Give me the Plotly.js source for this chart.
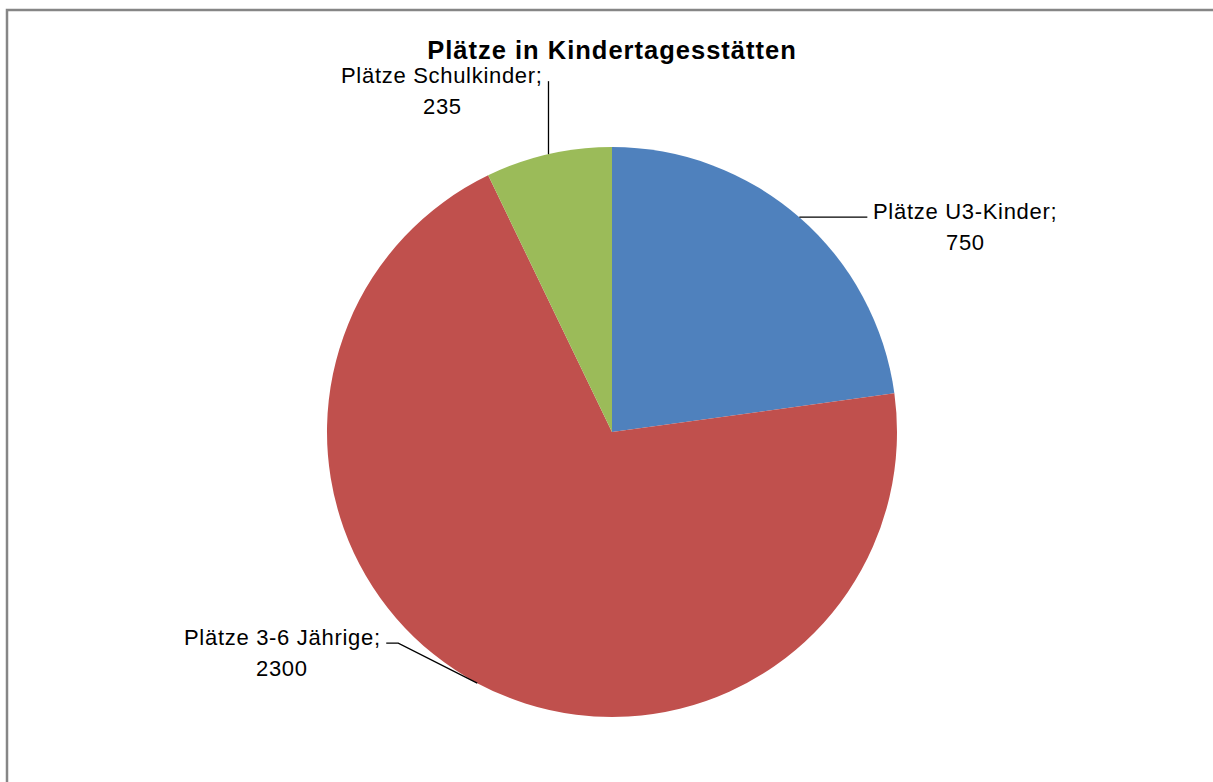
<!DOCTYPE html>
<html>
<head>
<meta charset="utf-8">
<script src="https://cdn.plot.ly/plotly-3.0.1.min.js"></script>
<style>html,body{margin:0;padding:0;background:#fff;}#chart{width:1213px;height:782px;}</style>
</head>
<body>
<div id="chart"></div>
<script>
// ---- data ----
const categories = ["Plätze U3-Kinder", "Plätze 3-6 Jährige", "Plätze Schulkinder"];
const values = [750, 2300, 235];
const colors = ["#4F81BD", "#C0504D", "#9BBB59"];
const chartTitle = "Plätze in Kindertagesstätten";

// ---- layout geometry (pixels) ----
const W = 1213, H = 782;
const cx = 612, cy = 432, R = 285;
const FONT = "'Liberation Sans', Arial, sans-serif";
const LABEL_SIZE = 22;
const LINE_GAP = 31;
const sp = (t, ls) => `<span style="letter-spacing:${ls}px">${t}</span>`;
// leader line shape per slice: relative vertices from the slice edge point, then label center offset
const leaderStyle = [
  {pts: [[68, 0]], text: [98, -6]},
  {pts: [[-79, -40], [-91, -40]], text: [-104, -6]},
  {pts: [[0, -73]], text: [-106, -6]}
];

const px = x => x / W;
const py = y => 1 - y / H;

const total = values.reduce((a, b) => a + b, 0);
let cum = 0;
const shapes = [];
const annotations = [];
values.forEach((v, i) => {
  const mid = (cum + v / 2) / total * 2 * Math.PI;
  cum += v;
  const ex = cx + R * Math.sin(mid), ey = cy - R * Math.cos(mid);
  let path = `M ${px(ex)} ${py(ey)}`;
  let lx = ex, ly = ey;
  leaderStyle[i].pts.forEach(p => {
    lx = ex + p[0]; ly = ey + p[1];
    path += ` L ${px(lx)} ${py(ly)}`;
  });
  shapes.push({type: "path", xref: "paper", yref: "paper", path: path, line: {color: "#000", width: 1.3}});
  const tx = lx + leaderStyle[i].text[0];
  const ty = ly + leaderStyle[i].text[1];
  annotations.push({xref: "paper", yref: "paper", x: px(tx), y: py(ty), text: sp(categories[i] + ";", 0.7),
    showarrow: false, xanchor: "center", yanchor: "middle", font: {family: FONT, size: LABEL_SIZE, color: "#000"}});
  annotations.push({xref: "paper", yref: "paper", x: px(tx), y: py(ty + LINE_GAP), text: sp(String(v), 0.7),
    showarrow: false, xanchor: "center", yanchor: "middle", font: {family: FONT, size: LABEL_SIZE, color: "#000"}});
});

// chart border
shapes.push({type: "rect", xref: "paper", yref: "paper", x0: px(7), x1: px(W + 10), y0: py(H + 10), y1: py(10),
  line: {color: "#868686", width: 2.5}, fillcolor: "rgba(0,0,0,0)"});

const trace = {
  type: "pie",
  labels: categories,
  values: values,
  sort: false,
  direction: "clockwise",
  rotation: 0,
  marker: {colors: colors, line: {width: 0}},
  textinfo: "none",
  hoverinfo: "label+value",
  showlegend: false,
  domain: {x: [px(cx - R), px(cx + R)], y: [py(cy + R), py(cy - R)]}
};

const layout = {
  width: W, height: H,
  margin: {l: 0, r: 0, t: 0, b: 0},
  paper_bgcolor: "#fff",
  title: {text: "<b>" + sp(chartTitle, 1) + "</b>", x: px(612), xanchor: "center", y: py(50), yanchor: "middle",
    font: {family: FONT, size: 25.5, color: "#000"}},
  shapes: shapes,
  annotations: annotations,
  showlegend: false
};

Plotly.newPlot("chart", [trace], layout, {displayModeBar: false, staticPlot: true});
</script>
</body>
</html>
